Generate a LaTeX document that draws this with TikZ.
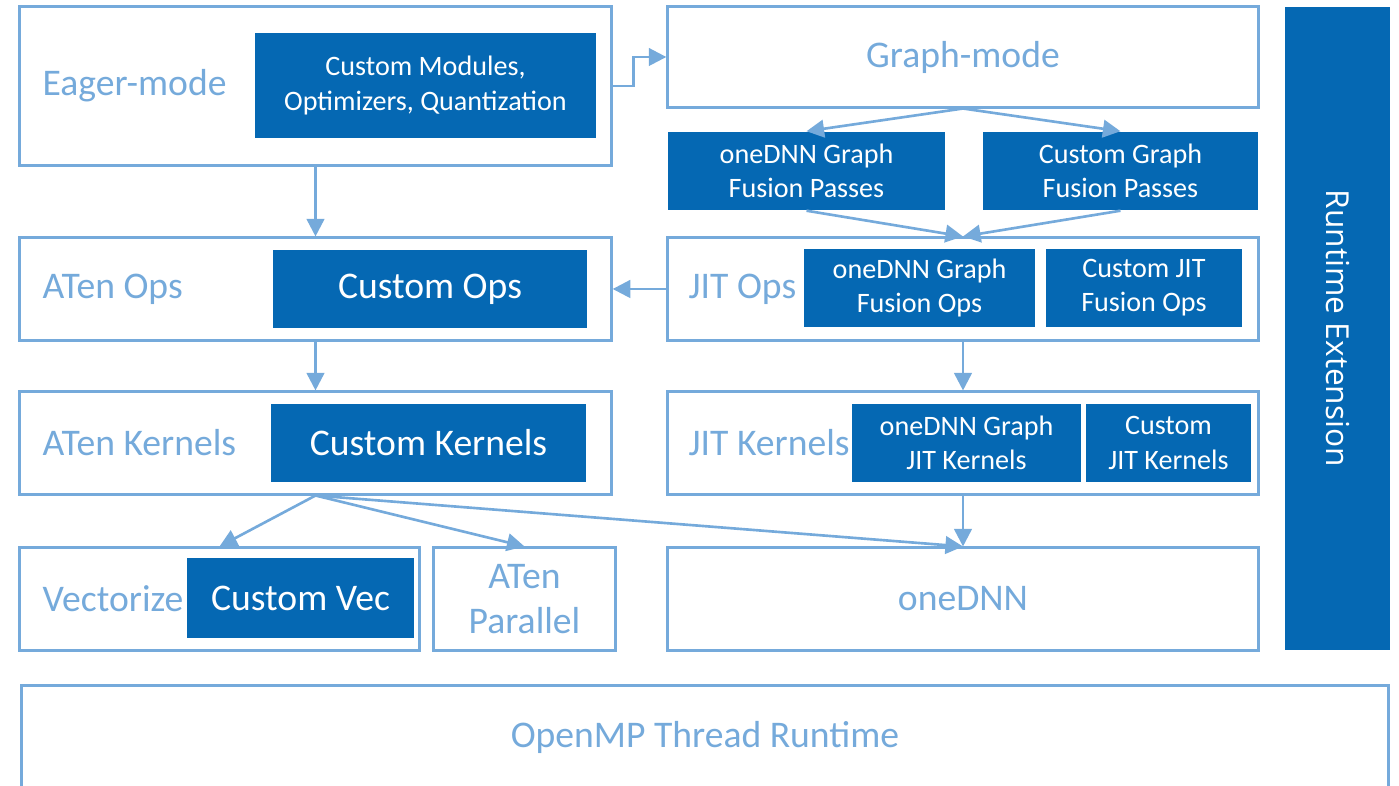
\documentclass[tikz,border=0pt]{standalone}
\usepackage{fontspec}
\setmainfont{Carlito}
\newfontfamily\rtfont{Open Sans}
\usetikzlibrary{arrows.meta}
\definecolor{lblue}{RGB}{117,170,219}
\definecolor{dblue}{RGB}{5,104,179}

\begin{document}
\begin{tikzpicture}[x=0.01cm,y=-0.01cm,
    outer/.style={draw=lblue,line width=0.85pt,fill=white,inner sep=0pt,text=lblue,
      font=\fontsize{10.7}{13}\selectfont,align=center},
    lbl/.style={anchor=west,inner sep=0pt,text=lblue,font=\fontsize{10.7}{13}\selectfont},
    inner/.style={fill=dblue,inner sep=0pt,text=white,align=center,
      font=\fontsize{8}{9.7}\selectfont},
    big/.style={font=\fontsize{10.7}{13}\selectfont},
    arr/.style={draw=lblue,line width=0.75pt,-{Triangle[length=5pt,width=5pt]}}]
    \clip (0,0) rectangle (1399,786);
    % top row
    \node[outer,minimum width=5.91cm,minimum height=1.58cm] (eager) at (315.5,86) {};
    \node[lbl] (eagerlbl) at (42,86) {Eager-mode};
    \node[inner,minimum width=3.41cm,minimum height=1.05cm] (cmods) at (425.5,85.5)
      {Custom Modules,\\Optimizers, Quantization};
    \node[outer,minimum width=5.90cm,minimum height=1.00cm] (graph) at (963,57) {Graph-mode};
    \node[inner,minimum width=2.77cm,minimum height=0.78cm] (gpass1) at (806.5,171)
      {oneDNN Graph\\Fusion Passes};
    \node[inner,minimum width=2.75cm,minimum height=0.78cm] (gpass2) at (1120.5,171)
      {Custom Graph\\Fusion Passes};
    \node[fill=dblue,inner sep=0pt,minimum width=6.43cm,minimum height=1.05cm,rotate=-90,
      text=white,font=\rtfont\fontsize{9}{11}\selectfont] (rtext) at (1337.5,328.5) {Runtime Extension};
    % ops
    \node[outer,minimum width=5.91cm,minimum height=1.02cm] (atops) at (315.5,289) {};
    \node[lbl] (atopslbl) at (42,289) {ATen Ops};
    \node[inner,big,minimum width=3.14cm,minimum height=0.78cm] (cops) at (430,289) {Custom Ops};
    \node[outer,minimum width=5.90cm,minimum height=1.02cm] (jitops) at (963,289) {};
    \node[lbl] (jitopslbl) at (688,289) {JIT Ops};
    \node[inner,minimum width=2.31cm,minimum height=0.78cm] (fops1) at (919.5,288)
      {oneDNN Graph\\Fusion Ops};
    \node[inner,minimum width=1.96cm,minimum height=0.78cm] (fops2) at (1144,288)
      {Custom JIT\\Fusion Ops};
    % kernels
    \node[outer,minimum width=5.91cm,minimum height=1.02cm] (atker) at (315.5,443) {};
    \node[lbl] (atkerlbl) at (42,443) {ATen Kernels};
    \node[inner,big,minimum width=3.15cm,minimum height=0.78cm] (cker) at (428.5,443) {Custom Kernels};
    \node[outer,minimum width=5.90cm,minimum height=1.02cm] (jitker) at (963,443) {};
    \node[lbl] (jitkerlbl) at (688,443) {JIT Kernels};
    \node[inner,minimum width=2.29cm,minimum height=0.78cm] (jker1) at (966.5,443)
      {oneDNN Graph\\JIT Kernels};
    \node[inner,minimum width=1.65cm,minimum height=0.78cm] (jker2) at (1168.5,443)
      {Custom\\JIT Kernels};
    % bottom
    \node[outer,minimum width=3.99cm,minimum height=1.02cm] (vec) at (219.5,599) {};
    \node[lbl] (veclbl) at (42,599) {Vectorize};
    \node[inner,big,minimum width=2.27cm,minimum height=0.80cm] (cvec) at (300.5,598) {Custom Vec};
    \node[outer,minimum width=1.81cm,minimum height=1.02cm] (par) at (524.5,599) {ATen\\Parallel};
    \node[outer,minimum width=5.90cm,minimum height=1.02cm] (dnn) at (963,599) {oneDNN};
    \node[outer,minimum width=13.66cm,minimum height=1.14cm,text depth=0pt] (omp) at (705,743) {};
    \node[text=lblue,big,inner sep=0pt] (omplbl) at (705,737) {OpenMP Thread Runtime};
    % arrows
    \draw[arr] (eager.east) -- ++(21,0) |- (graph.west);
    \draw[arr] (eager.south) -- (atops.north);
    \draw[arr] (graph.south) -- (gpass1.north);
    \draw[arr] (graph.south) -- (gpass2.north);
    \draw[arr] (gpass1.south) -- (jitops.north);
    \draw[arr] (gpass2.south) -- (jitops.north);
    \draw[arr] (jitops.west) -- (atops.east);
    \draw[arr] (atops.south) -- (atker.north);
    \draw[arr] (jitops.south) -- (jitker.north);
    \draw[arr] (jitker.south) -- (dnn.north);
    \draw[arr] (atker.south) -- (vec.north);
    \draw[arr] (atker.south) -- (par.north);
    \draw[arr] (atker.south) -- (dnn.north);
\end{tikzpicture}
\end{document}
